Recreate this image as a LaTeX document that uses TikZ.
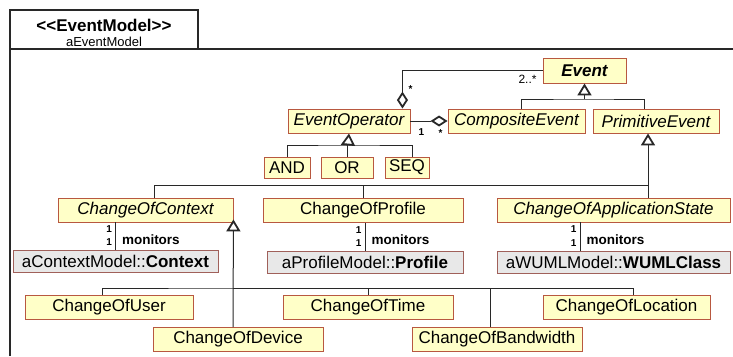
\documentclass[tikz,border=0pt]{standalone}
\usepackage{fontspec}
\setmainfont{Liberation Sans}
\usetikzlibrary{arrows.meta}

\definecolor{clsfill}{RGB}{255,255,200}
\definecolor{clsdraw}{RGB}{184,88,64}
\definecolor{objfill}{RGB}{232,232,232}
\definecolor{objdraw}{RGB}{160,96,90}
\definecolor{linegray}{RGB}{40,40,40}

\begin{document}
\begin{tikzpicture}[x=1pt,y=1pt,yscale=-1,xscale=1,
  cls/.style={draw=clsdraw,fill=clsfill,line width=0.9pt,inner sep=0pt,minimum height=24pt,font=\fontsize{17}{20}\selectfont},
  obj/.style={cls,draw=objdraw,fill=objfill,minimum height=22pt},
  conn/.style={draw=linegray,line width=1pt},
  gen/.style={conn,-{Triangle[open,length=12pt,width=14pt,line width=1.8pt]}},
  aggr/.style={conn,{Diamond[open,length=17pt,width=11pt,line width=1.8pt]}-},
  mult/.style={font=\fontsize{10}{11}\selectfont\bfseries,inner sep=0.5pt},
  role/.style={font=\fontsize{13.5}{15}\selectfont\bfseries,inner sep=1pt},
  frame/.style={draw=linegray,line width=1.5pt}]
        \useasboundingbox (0,0) rectangle (733,356);

        %Shape: Frame [id:frame]
        \draw[frame] (10,356) -- (10,10) -- (198,10) -- (198,49) ;
        \draw[frame] (10,49) -- (733,49) ;
        % Text Node
        \node[font=\fontsize{17}{20}\selectfont\bfseries,inner sep=0pt] (stereo) at (104,25) {<\kern0pt<EventModel>\kern0pt>};
        % Text Node
        \node[font=\fontsize{13}{15}\selectfont,inner sep=0pt] (fname) at (104,42) {aEventModel};

        %Shape: Classes [id:events]
        \node[cls,minimum width=83pt,minimum height=25pt] (event) at (584.5,70.5) {\bfseries\itshape Event};
        \node[cls,minimum width=122pt] (evop) at (349,121) {\itshape EventOperator};
        \node[cls,minimum width=137pt] (comp) at (516.5,121) {\itshape CompositeEvent};
        \node[cls,minimum width=126pt] (prim) at (656,121) {\itshape PrimitiveEvent};
        \node[cls,minimum width=46pt,minimum height=21pt] (and) at (287,167.5) {AND};
        \node[cls,minimum width=52pt,minimum height=21pt] (or) at (347,167.5) {OR};
        \node[cls,minimum width=44pt,minimum height=21pt] (seq) at (407,167.5) {SEQ};

        %Shape: Classes [id:changes]
        \node[cls,minimum width=175pt] (coc) at (145.5,210) {\itshape ChangeOfContext};
        \node[cls,minimum width=200pt] (cop) at (363,210.5) {ChangeOfProfile};
        \node[cls,minimum width=233pt] (cas) at (613.5,210) {\itshape ChangeOfApplicationState};
        \node[obj,minimum width=205pt] (ctx) at (115.5,261) {aContextModel::\textbf{Context}};
        \node[obj,minimum width=196pt] (prof) at (365,262) {aProfileModel::\textbf{Profile}};
        \node[obj,minimum width=233pt] (wuml) at (613.5,262) {aWUMLModel::\textbf{WUMLClass}};
        \node[cls,minimum width=168pt] (cou) at (109,307.5) {ChangeOfUser};
        \node[cls,minimum width=170pt] (cod) at (238,339.5) {ChangeOfDevice};
        \node[cls,minimum width=170pt] (cot) at (368,307.5) {ChangeOfTime};
        \node[cls,minimum width=170pt] (cob) at (497,339.5) {ChangeOfBandwidth};
        \node[cls,minimum width=167pt] (col) at (626.5,307.5) {ChangeOfLocation};

        %Straight Lines [id:aggregations]
        \draw[aggr] ([xshift=-8pt]evop.north east) |- (event.west) ;
        \path (event.west) ++(-15,8.5) node[font=\fontsize{12}{13}\selectfont,inner sep=0pt] (m2) {2..*};
        \path ([xshift=-8pt]evop.north east) ++(8,-19) node[mult] (m3) {*};
        \draw[aggr] (comp.west) -- (evop.east) ;
        \path (evop.east) ++(11,11) node[mult] (m4) {1};
        \path (comp.west) ++(-7,12) node[mult] (m5) {*};

        %Straight Lines [id:generalisations]
        \coordinate (evbar) at (584.5,99);
        \draw[conn] ([xshift=5pt]comp.north) |- (evbar) -| ([xshift=-12pt]prim.north) ;
        \draw[gen] (evbar) -- (event.south) ;
        \coordinate (opbar) at (348,145);
        \draw[conn] (and.north) |- (opbar) -| ([xshift=5pt]seq.north) ;
        \draw[conn] (or.north) -- (or.north |- opbar) ;
        \draw[gen] (opbar) -- (evop.south) ;
        \coordinate (pebar) at (648,185);
        \draw[gen] (pebar) -- (pebar |- prim.south) ;
        \draw[conn] ([xshift=8.5pt]coc.north) |- (pebar) -- (pebar |- cas.north) ;
        \draw[conn] (cop.north) -- (cop.north |- pebar) ;
        \coordinate (ccbar) at (233,288);
        \draw[gen] (ccbar |- cod.north) -- ([yshift=-3pt]coc.south east) ;
        \draw[conn] ([xshift=-7pt]cou.north) |- (ccbar) -| ([xshift=6.5pt]col.north) ;
        \draw[conn] (cot.north) -- (cot.north |- ccbar) ;
        \draw[conn] ([xshift=-7pt]cob.north) |- (ccbar) ;

        %Straight Lines [id:monitors]
        \draw[conn] (coc.south -| ctx.north) -- (ctx.north)
            node[mult,pos=0.25,left=2.5pt] (c1) {1} node[mult,pos=0.72,left=2.5pt] (c2) {1}
            node[role,pos=0.62,right=5pt] (cm) {monitors};
        \draw[conn] (cop.south -| prof.north) -- (prof.north)
            node[mult,pos=0.25,left=2.5pt] (p1) {1} node[mult,pos=0.72,left=2.5pt] (p2) {1}
            node[role,pos=0.62,right=5pt] (pm) {monitors};
        \draw[conn] ([xshift=-33.5pt]cas.south) -- ([xshift=-33.5pt]wuml.north)
            node[mult,pos=0.25,left=2.5pt] (w1) {1} node[mult,pos=0.72,left=2.5pt] (w2) {1}
            node[role,pos=0.62,right=5pt] (wm) {monitors};

\end{tikzpicture}
\end{document}
